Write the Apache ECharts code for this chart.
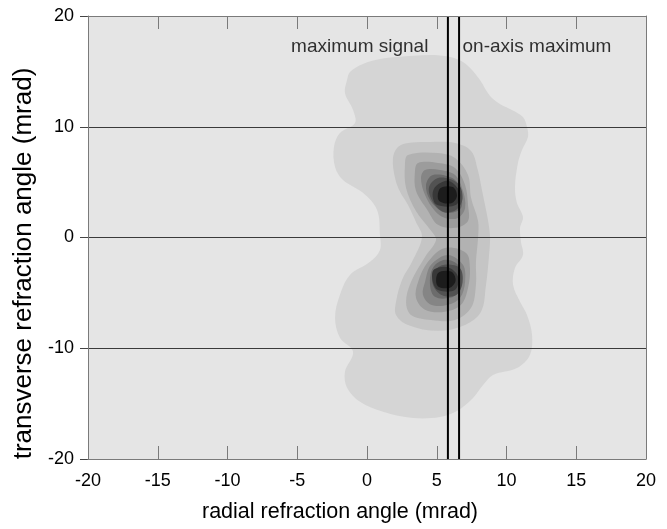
<!DOCTYPE html>
<html>
<head>
<meta charset="utf-8">
<script src="https://cdn.jsdelivr.net/npm/echarts@6/dist/echarts.min.js"></script>
<style>
html,body{margin:0;padding:0;background:#fff;}
#chart{width:667px;height:529px;}
</style>
</head>
<body>
<div id="chart"></div>
<script>
// ---- data (mrad) ----
const xTicks = [-20, -15, -10, -5, 0, 5, 10, 15, 20];
const yTicks = [-20, -10, 0, 10, 20];
const maxSignalX = 5.8;
const onAxisMaxX = 6.6;

// contour level outlines [radial, transverse]
const level1 = [[-1.43,14.22],[-1.22,14.95],[-0.29,15.67],[0.93,16.12],[2.15,16.30],[4.52,16.48],[5.95,16.30],[6.88,15.85],[7.53,15.13],[8.10,14.22],[8.82,12.78],[9.53,12.06],[10.39,11.52],[11.18,10.88],[11.47,9.98],[11.54,9.08],[11.11,7.91],[10.82,6.73],[10.61,4.57],[10.75,3.12],[11.18,1.86],[10.97,0.87],[11.04,-0.40],[11.18,-1.57],[10.61,-2.74],[10.47,-4.27],[10.97,-5.81],[11.47,-6.99],[11.83,-8.79],[11.68,-10.61],[10.75,-11.79],[9.03,-12.42],[8.32,-13.32],[7.60,-14.49],[6.45,-15.67],[5.23,-16.21],[3.30,-16.30],[1.15,-15.74],[-0.50,-14.84],[-1.43,-13.57],[-1.58,-12.13],[-1.00,-10.32],[-1.94,-9.06],[-2.29,-7.25],[-1.94,-5.18],[-1.22,-3.38],[0.22,-2.20],[0.93,-1.12],[0.93,0.23],[0.72,2.49],[-0.29,4.03],[-1.72,5.20],[-2.29,6.37],[-2.37,8.18],[-1.94,9.44],[-0.86,10.34],[-1.00,11.52],[-1.58,13.05]];
const level2 = [[2.94,8.54],[4.52,8.63],[6.31,8.54],[7.46,7.82],[7.96,6.01],[8.24,4.30],[8.46,2.94],[8.67,1.59],[8.82,0.05],[8.75,-1.57],[8.53,-4.28],[8.17,-6.71],[7.03,-7.89],[5.09,-8.43],[2.94,-7.89],[2.08,-6.99],[2.08,-5.81],[2.51,-3.83],[3.23,-2.20],[3.94,0.05],[3.51,1.41],[2.94,2.94],[2.37,4.12],[2.01,5.38],[1.86,7.18],[2.22,8.18]];
const level3 = [[2.94,7.45],[5.09,7.64],[6.31,7.18],[7.24,5.65],[7.46,3.57],[7.96,1.50],[7.96,-0.04],[7.81,-2.20],[7.81,-4.28],[7.46,-6.35],[6.31,-7.44],[4.59,-7.44],[3.15,-6.99],[2.80,-5.81],[3.15,-4.01],[4.16,-1.75],[4.95,-0.22],[4.59,0.60],[3.51,2.40],[2.80,4.48],[2.72,6.55]];
const level4Upper = [[3.66,6.73],[5.09,6.73],[6.31,6.28],[7.03,4.75],[7.24,2.94],[7.24,1.50],[6.31,0.87],[5.09,1.14],[4.37,2.40],[3.51,4.21],[3.44,6.01]];
const level4Lower = [[5.59,-0.94],[7.10,-1.39],[7.38,-2.74],[7.24,-4.55],[6.74,-6.08],[5.59,-6.71],[4.16,-6.53],[3.51,-5.45],[3.66,-4.01],[4.37,-2.20]];
const level5Upper = [[4.16,6.10],[5.23,6.10],[6.31,5.65],[6.88,4.21],[7.03,2.67],[6.52,1.77],[5.59,1.77],[4.87,2.40],[4.16,3.84],[3.87,5.38]];
const level5Lower = [[5.81,-1.57],[6.88,-2.47],[7.03,-4.01],[6.67,-5.45],[5.81,-6.08],[4.59,-6.08],[4.01,-5.18],[4.16,-4.01],[4.59,-2.47]];
const level6Upper = [[4.73,5.65],[6.31,5.20],[6.74,3.84],[6.74,2.67],[5.95,2.22],[5.30,2.40],[4.52,3.39],[4.23,4.75]];
const level6Lower = [[5.59,-2.02],[6.52,-2.47],[6.74,-3.65],[6.52,-4.91],[5.95,-5.45],[4.87,-5.36],[4.52,-4.28],[4.73,-2.74]];
const level7Upper = [[5.15,5.40],[6.50,4.90],[6.85,3.55],[6.40,2.50],[5.50,2.30],[4.70,3.25],[4.45,4.55]];
const level7Lower = [[5.55,-2.45],[6.65,-2.75],[6.85,-4.05],[6.40,-5.20],[5.35,-5.20],[4.70,-4.15],[4.90,-2.95]];
const level8Upper = [[4.95,4.65],[5.85,5.10],[6.65,4.10],[6.40,2.95],[5.00,2.95],[4.70,3.85]];
const level8Lower = [[4.80,-2.90],[5.85,-2.70],[6.55,-3.60],[6.30,-4.75],[5.10,-4.75],[4.70,-3.90]];
const level9Upper = [[5.25,4.45],[6.15,4.55],[6.45,3.75],[6.05,3.10],[5.15,3.35]];
const level9Lower = [[5.10,-3.20],[6.05,-3.10],[6.35,-3.90],[5.90,-4.55],[5.05,-4.35]];

// ---- styling ----
const FONT = 'Liberation Sans, Arial, Helvetica, sans-serif';
const contours = [
  {pts: level1, color: '#d5d5d5'},
  {pts: level2, color: '#c5c5c5'},
  {pts: level3, color: '#b2b2b2'},
  {pts: level4Upper, color: '#9c9c9c'},
  {pts: level4Lower, color: '#9c9c9c'},
  {pts: level5Upper, color: '#858585'},
  {pts: level5Lower, color: '#858585'},
  {pts: level6Upper, color: '#6c6c6c'},
  {pts: level6Lower, color: '#6c6c6c'},
  {pts: level7Upper, color: '#525252'},
  {pts: level7Lower, color: '#525252'},
  {pts: level8Upper, color: '#383838'},
  {pts: level8Lower, color: '#383838'},
  {pts: level9Upper, color: '#1c1c1c'},
  {pts: level9Lower, color: '#1c1c1c'}
];

function polySeries(points, color, z) {
  return {
    type: 'custom',
    coordinateSystem: 'cartesian2d',
    xAxisIndex: 0, yAxisIndex: 0,
    silent: true,
    z: z,
    data: points,
    encode: {x: 0, y: 1},
    renderItem: function (params, api) {
      if (params.dataIndex !== 0) return null;
      return {
        type: 'polygon',
        shape: {points: points.map(p => api.coord(p)), smooth: 0.35},
        style: {fill: color, stroke: null}
      };
    }
  };
}

const series = contours.map((c, i) => polySeries(c.pts, c.color, 2 + i * 0.01));

series.push({
  type: 'line', xAxisIndex: 0, yAxisIndex: 0, silent: true, z: 5,
  symbol: 'none', data: [[maxSignalX, -20], [maxSignalX, 20]],
  lineStyle: {color: '#000', width: 2}
});
series.push({
  type: 'line', xAxisIndex: 0, yAxisIndex: 0, silent: true, z: 5,
  symbol: 'none', data: [[onAxisMaxX, -20], [onAxisMaxX, 20]],
  lineStyle: {color: '#000', width: 2}
});
series.push({
  type: 'scatter', xAxisIndex: 0, yAxisIndex: 0, silent: true, z: 6,
  symbolSize: 0, itemStyle: {color: 'rgba(0,0,0,0)'},
  data: [[4.4, 17.2]],
  label: {show: true, position: [0, 0], align: 'right', verticalAlign: 'middle',
    formatter: 'maximum signal', color: '#000', fontSize: 19, fontFamily: FONT}
});
series.push({
  type: 'scatter', xAxisIndex: 0, yAxisIndex: 0, silent: true, z: 6,
  symbolSize: 0, itemStyle: {color: 'rgba(0,0,0,0)'},
  data: [[6.85, 17.2]],
  label: {show: true, position: [0, 0], align: 'left', verticalAlign: 'middle',
    formatter: 'on-axis maximum', color: '#000', fontSize: 19, fontFamily: FONT}
});

const axisGray = '#7a7a7a';
const option = {
  backgroundColor: '#ffffff',
  animation: false,
  grid: {left: 88, right: 21, top: 16, bottom: 70, show: true, backgroundColor: '#e5e5e5', borderWidth: 0},
  xAxis: [
    {
      type: 'value', position: 'bottom', min: -20, max: 20, interval: 5,
      axisLine: {show: true, onZero: false, lineStyle: {color: axisGray, width: 1}},
      axisTick: {show: true, inside: true, length: 13, lineStyle: {color: axisGray, width: 1}},
      axisLabel: {show: true, color: '#000', fontSize: 18, fontFamily: FONT, margin: 13},
      splitLine: {show: false},
      name: 'radial refraction angle (mrad)', nameLocation: 'middle', nameGap: 42,
      nameTextStyle: {color: '#000', fontSize: 21.5, fontFamily: FONT, padding: [0, 54, 0, 0]},
      z: 10
    },
    {
      type: 'value', position: 'top', min: -20, max: 20, interval: 5,
      axisLine: {show: true, onZero: false, lineStyle: {color: axisGray, width: 1}},
      axisTick: {show: true, inside: true, length: 13, lineStyle: {color: axisGray, width: 1}},
      axisLabel: {show: false},
      splitLine: {show: false},
      z: 10
    }
  ],
  yAxis: [
    {
      type: 'value', position: 'left', min: -20, max: 20, interval: 10,
      axisLine: {show: true, onZero: false, lineStyle: {color: axisGray, width: 1}},
      axisTick: {show: true, inside: false, length: 8, lineStyle: {color: '#444', width: 1}},
      axisLabel: {show: true, color: '#000', fontSize: 18, fontFamily: FONT, margin: 14},
      splitLine: {show: true, lineStyle: {color: '#3a3a3a', width: 1}},
      name: 'transverse refraction angle (mrad)', nameLocation: 'middle', nameGap: 51,
      nameTextStyle: {color: '#000', fontSize: 26, fontFamily: FONT, padding: [0, 52, 0, 0]},
      z: 3
    },
    {
      type: 'value', position: 'right', min: -20, max: 20, interval: 10,
      axisLine: {show: true, onZero: false, lineStyle: {color: axisGray, width: 1}},
      axisTick: {show: false}, axisLabel: {show: false}, splitLine: {show: false},
      z: 10
    }
  ],
  series: series
};

const chart = echarts.init(document.getElementById('chart'), null, {renderer: 'canvas'});
chart.setOption(option);
</script>
</body>
</html>
